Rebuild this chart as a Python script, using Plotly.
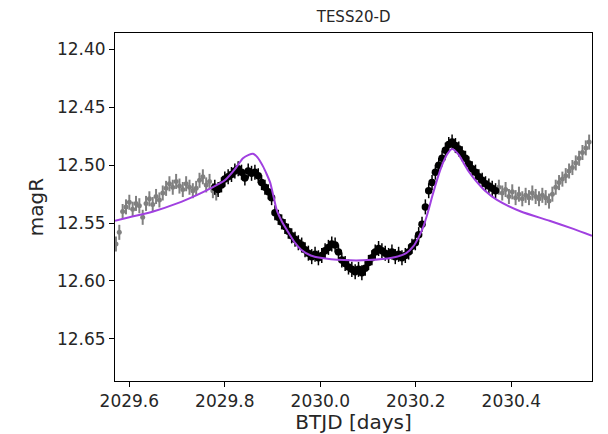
import plotly.graph_objects as go

# --- Light curve, out-of-fit points (before the fit window) ---
t_pre = [2029.572, 2029.579, 2029.586, 2029.593, 2029.600, 2029.607, 2029.614,
         2029.621, 2029.628, 2029.635, 2029.642, 2029.649, 2029.656, 2029.663,
         2029.670, 2029.677, 2029.684, 2029.691, 2029.698, 2029.705, 2029.712,
         2029.719, 2029.726, 2029.733, 2029.740, 2029.747, 2029.754, 2029.761,
         2029.768, 2029.775, 2029.782]
mag_pre = [12.568, 12.558, 12.540, 12.536, 12.532, 12.538, 12.533,
           12.535, 12.545, 12.533, 12.529, 12.534, 12.527, 12.530,
           12.524, 12.520, 12.516, 12.519, 12.514, 12.518, 12.521,
           12.516, 12.519, 12.522, 12.520, 12.513, 12.510, 12.517,
           12.514, 12.522, 12.524]

# --- Light curve, points used in the fit ---
t_fit = [2029.779, 2029.786, 2029.793, 2029.800, 2029.807, 2029.814, 2029.821,
         2029.828, 2029.835, 2029.842, 2029.849, 2029.856, 2029.863, 2029.870,
         2029.877, 2029.884, 2029.891, 2029.898, 2029.905, 2029.912, 2029.919,
         2029.926, 2029.933, 2029.940, 2029.947, 2029.954, 2029.961, 2029.968,
         2029.975, 2029.982, 2029.989, 2029.996, 2030.003, 2030.010, 2030.017,
         2030.024, 2030.031, 2030.038, 2030.045, 2030.052, 2030.059, 2030.066,
         2030.073, 2030.080, 2030.087, 2030.094, 2030.101, 2030.108, 2030.115,
         2030.122, 2030.129, 2030.136, 2030.143, 2030.150, 2030.157, 2030.164,
         2030.171, 2030.178, 2030.185, 2030.192, 2030.199, 2030.206, 2030.213,
         2030.220, 2030.227, 2030.234, 2030.241, 2030.248, 2030.255, 2030.262,
         2030.269, 2030.276, 2030.283, 2030.290, 2030.297, 2030.304, 2030.311,
         2030.318, 2030.325, 2030.332, 2030.339, 2030.346, 2030.353, 2030.360,
         2030.367]
mag_fit = [12.519, 12.521, 12.517, 12.512, 12.510, 12.508, 12.505,
           12.503, 12.506, 12.511, 12.505, 12.507, 12.506, 12.509,
           12.515, 12.519, 12.523, 12.528, 12.541, 12.545, 12.549,
           12.553, 12.557, 12.561, 12.564, 12.567, 12.569, 12.573,
           12.576, 12.579, 12.577, 12.580, 12.578, 12.574, 12.571,
           12.568, 12.569, 12.575, 12.582, 12.585, 12.588, 12.590,
           12.592, 12.590, 12.593, 12.589, 12.584, 12.580, 12.575,
           12.572, 12.574, 12.576, 12.578, 12.575, 12.579, 12.577,
           12.580, 12.578, 12.575, 12.570, 12.567, 12.560, 12.551,
           12.536, 12.522, 12.515, 12.506, 12.500, 12.494, 12.487,
           12.482, 12.480, 12.483, 12.486, 12.490, 12.494, 12.499,
           12.503, 12.506, 12.510, 12.513, 12.516, 12.518, 12.520,
           12.522]

# --- Light curve, out-of-fit points (after the fit window) ---
t_post = [2030.374, 2030.381, 2030.388, 2030.395, 2030.402, 2030.409, 2030.416,
          2030.423, 2030.430, 2030.437, 2030.444, 2030.451, 2030.458, 2030.465,
          2030.472, 2030.479, 2030.486, 2030.493, 2030.500, 2030.507, 2030.514,
          2030.521, 2030.528, 2030.535, 2030.542, 2030.549, 2030.556, 2030.563]
mag_post = [12.519, 12.524, 12.521, 12.527, 12.523, 12.528, 12.525,
            12.529, 12.526, 12.528, 12.524, 12.527, 12.529, 12.526,
            12.528, 12.531, 12.525, 12.519, 12.515, 12.512, 12.509,
            12.505, 12.502, 12.498, 12.494, 12.489, 12.485, 12.480]

MAG_ERR = 0.0065

# --- Binary-lens model curve ---
t_model = [2029.570, 2029.600, 2029.650, 2029.700, 2029.740, 2029.770, 2029.800,
           2029.820, 2029.838, 2029.850, 2029.859, 2029.868, 2029.880, 2029.888,
           2029.895, 2029.902, 2029.909, 2029.920, 2029.930, 2029.945, 2029.960,
           2029.980, 2030.000, 2030.050, 2030.100, 2030.150, 2030.180, 2030.195,
           2030.205, 2030.215, 2030.225, 2030.235, 2030.245, 2030.255, 2030.265,
           2030.276, 2030.290, 2030.300, 2030.310, 2030.325, 2030.345, 2030.370,
           2030.420, 2030.480, 2030.530, 2030.569]
mag_model = [12.548, 12.545, 12.540, 12.533, 12.526, 12.520, 12.513,
             12.504, 12.494, 12.491, 12.490, 12.493, 12.501, 12.508,
             12.515, 12.527, 12.539, 12.549, 12.556, 12.566, 12.573,
             12.578, 12.580, 12.582, 12.582, 12.580, 12.576, 12.570,
             12.563, 12.554, 12.541, 12.526, 12.512, 12.500, 12.491,
             12.486, 12.491, 12.498, 12.505, 12.513, 12.522, 12.530,
             12.540, 12.548, 12.555, 12.561]

X_TICKS = [2029.6, 2029.8, 2030.0, 2030.2, 2030.4]
Y_TICKS = [12.40, 12.45, 12.50, 12.55, 12.60, 12.65]

GRAY = "#808080"
PURPLE = "#A040E0"
FONT = "DejaVu Sans"

fig = go.Figure()

for t, m in ((t_pre, mag_pre), (t_post, mag_post)):
    fig.add_trace(go.Scatter(
        x=t, y=m, mode="markers",
        marker=dict(color=GRAY, size=5),
        error_y=dict(type="constant", value=MAG_ERR, color=GRAY,
                     thickness=2, width=0),
        showlegend=False, hoverinfo="skip"))

fig.add_trace(go.Scatter(
    x=t_fit, y=mag_fit, mode="markers",
    marker=dict(color="black", size=7.5),
    error_y=dict(type="constant", value=MAG_ERR, color="black",
                 thickness=1.5, width=0),
    showlegend=False))

fig.add_trace(go.Scatter(
    x=t_model, y=mag_model, mode="lines",
    line=dict(color=PURPLE, width=2, shape="spline", smoothing=0.6),
    showlegend=False))

axis_common = dict(
    showline=True, linecolor="black", linewidth=1, mirror=True,
    ticks="outside", ticklen=5, tickwidth=1, tickcolor="black",
    showgrid=False, zeroline=False, automargin=False,
    tickfont=dict(family=FONT, size=17, color="#262626"),
)

fig.update_xaxes(
    range=[2029.570, 2030.569], tickvals=X_TICKS,
    ticktext=[f"{v:.1f}" for v in X_TICKS],
    title=dict(text="BTJD [days]", font=dict(family=FONT, size=20, color="#262626"),
               standoff=6),
    **axis_common)
fig.update_yaxes(
    range=[12.6865, 12.3857], tickvals=Y_TICKS,
    ticktext=[f"{v:.2f}" for v in Y_TICKS],
    title=dict(text="magR", font=dict(family=FONT, size=20, color="#262626"),
               standoff=7),
    **axis_common)

fig.update_layout(
    width=608, height=434,
    margin=dict(l=115, r=16, t=33, b=53),
    paper_bgcolor="white", plot_bgcolor="white",
    title=dict(text="TESS20-D", x=0.5816, xanchor="center", y=0.962, yanchor="middle",
               font=dict(family=FONT, size=15, color="#262626")),
)

fig.write_html("out.html")
